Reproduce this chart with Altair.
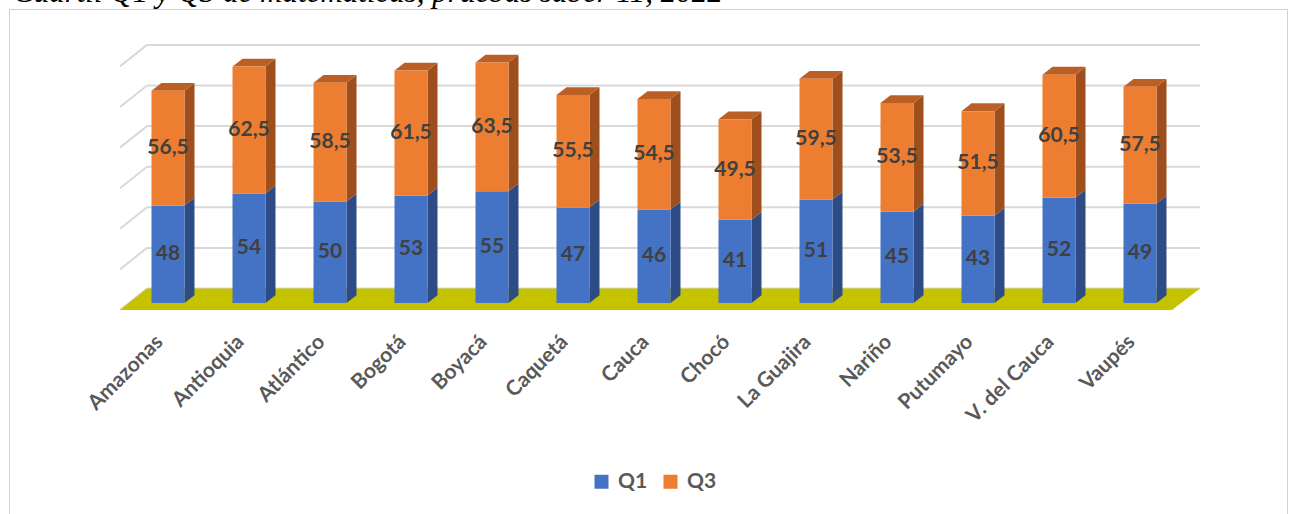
import altair as alt
import pandas as pd

# ---------------- data ----------------
categories = ["Amazonas", "Antioquia", "Atlántico", "Bogotá", "Boyacá", "Caquetá",
              "Cauca", "Chocó", "La Guajira", "Nariño", "Putumayo", "V. del Cauca", "Vaupés"]
q1 = [48, 54, 50, 53, 55, 47, 46, 41, 51, 45, 43, 52, 49]
q3 = [56.5, 62.5, 58.5, 61.5, 63.5, 55.5, 54.5, 49.5, 59.5, 53.5, 51.5, 60.5, 57.5]
series = ["Q1", "Q3"]
grid_values = [0, 20, 40, 60, 80, 100, 120]
title_text = "Cuartil Q1 y Q3 de matemáticas, pruebas saber 11, 2022"

# ---------------- geometry / style ----------------
W, H = 1293, 514
PX_CAT = 81.0          # px between category centres
C0 = 168.0             # px of first centre
PX_U = 2.03            # px per value unit
BASE = 303.0           # px of value 0 on bar front plane
X_DOMAIN = [(0 - C0) / PX_CAT, (W - C0) / PX_CAT]
Y_DOMAIN = [(BASE - H) / PX_U, BASE / PX_U]
HALF = 16.5 / PX_CAT
DX = 10.0 / PX_CAT
DY = 7.8 / PX_U

def px_x(p):
    return (p - C0) / PX_CAT

def px_y(p):
    return (BASE - p) / PX_U

FLOOR_FRONT_Y, FLOOR_BACK_Y = px_y(310), px_y(288.5)
FLOOR_FRONT_X = (px_x(120), px_x(1172))
FLOOR_BACK_X = (px_x(147), px_x(1200))

COL = {"Q1": "#4472C4", "Q3": "#ED7D31"}
SIDE = {"Q1": "#2D4C86", "Q3": "#9E4F1D"}
TOP = "#BC5F25"
FLOOR = "#C5C200"
GRID = "#D9D9D9"
FONT = "Lato"

xs = alt.Scale(domain=X_DOMAIN, nice=False, zero=False)
ys = alt.Scale(domain=Y_DOMAIN, nice=False, zero=False)

def fmt(v):
    s = f"{v:g}"
    return s.replace(".", ",")

# ---------------- tables ----------------
seg_rows, side_rows, top_rows, lab_rows = [], [], [], []
for i, (c, a, b) in enumerate(zip(categories, q1, q3)):
    for s, lo, hi, v in (("Q1", 0, a, a), ("Q3", a, a + b, b)):
        seg_rows.append(dict(cat=c, serie=s, x0=i - HALF, x1=i + HALF, y0=lo, y1=hi))
        sid = f"{c}-{s}"
        side_rows.append(dict(seg=sid, x=i + HALF, lo=lo, hi=hi, col=SIDE[s]))
        side_rows.append(dict(seg=sid, x=i + HALF + DX, lo=lo + DY, hi=hi + DY, col=SIDE[s]))
        lab_rows.append(dict(x=i, y=(lo + hi) / 2, t=fmt(v)))
    tot = a + b
    top_rows.append(dict(cat=c, y=tot, xl=i - HALF, xr=i + HALF))
    top_rows.append(dict(cat=c, y=tot + DY, xl=i - HALF + DX, xr=i + HALF + DX))

seg = pd.DataFrame(seg_rows)
side = pd.DataFrame(side_rows)
top = pd.DataFrame(top_rows)
labs = pd.DataFrame(lab_rows)
cats = pd.DataFrame(dict(cat=categories, x=[i - 0.1 for i in range(len(categories))],
                         y=[px_y(339)] * len(categories)))

back = pd.DataFrame(dict(x=[FLOOR_BACK_X[0]] * len(grid_values), x2=[FLOOR_BACK_X[1]] * len(grid_values),
                         y=[v + FLOOR_BACK_Y for v in grid_values], y2=[v + FLOOR_BACK_Y for v in grid_values]))
sidewall = pd.DataFrame(dict(x=[FLOOR_FRONT_X[0]] * len(grid_values), x2=[FLOOR_BACK_X[0]] * len(grid_values),
                             y=[v + FLOOR_FRONT_Y for v in grid_values], y2=[v + FLOOR_BACK_Y for v in grid_values]))
floor = pd.DataFrame(dict(y=[FLOOR_FRONT_Y, FLOOR_BACK_Y],
                          xl=[FLOOR_FRONT_X[0], FLOOR_BACK_X[0]],
                          xr=[FLOOR_FRONT_X[1], FLOOR_BACK_X[1]], g=["f", "f"]))

# ---------------- layers ----------------
grid_back = alt.Chart(back).mark_rule(color=GRID, strokeWidth=2).encode(
    x=alt.X("x:Q", scale=xs, axis=None), x2="x2:Q",
    y=alt.Y("y:Q", scale=ys, axis=None), y2="y2:Q")
grid_side = alt.Chart(sidewall).mark_rule(color=GRID, strokeWidth=2).encode(
    x=alt.X("x:Q", scale=xs, axis=None), x2="x2:Q",
    y=alt.Y("y:Q", scale=ys, axis=None), y2="y2:Q")
floor_l = alt.Chart(floor).mark_area(orient="horizontal", color=FLOOR, interpolate="linear").encode(
    y=alt.Y("y:Q", scale=ys, axis=None), x=alt.X("xl:Q", scale=xs, axis=None), x2="xr:Q",
    detail="g:N")
sides = alt.Chart(side).mark_area(orient="vertical", interpolate="linear").encode(
    x=alt.X("x:Q", scale=xs, axis=None),
    y=alt.Y("lo:Q", scale=ys, axis=None), y2="hi:Q",
    detail="seg:N",
    fill=alt.Fill("col:N", scale=None, legend=None))
tops = alt.Chart(top).mark_area(orient="horizontal", color=TOP, interpolate="linear").encode(
    y=alt.Y("y:Q", scale=ys, axis=None), x=alt.X("xl:Q", scale=xs, axis=None), x2="xr:Q",
    detail="cat:N")
fronts = alt.Chart(seg).mark_bar(stroke=None).encode(
    x=alt.X("x0:Q", scale=xs, axis=None), x2="x1:Q",
    y=alt.Y("y0:Q", scale=ys, axis=None), y2="y1:Q",
    color=alt.Color("serie:N",
                    scale=alt.Scale(domain=series, range=[COL[s] for s in series]),
                    legend=alt.Legend(orient="none", legendX=591, legendY=471, direction="horizontal",
                                      title=None, symbolType="square", symbolSize=196,
                                      symbolStrokeWidth=0, symbolOpacity=1,
                                      labelFont=FONT, labelFontSize=21, labelFontWeight="bold",
                                      labelColor="#595959", labelOffset=6, columnPadding=12,
                                      padding=0)))
vals = alt.Chart(labs).mark_text(font=FONT, fontSize=21, fontWeight="bold", color="#404040",
                                 align="center", baseline="middle").encode(
    x=alt.X("x:Q", scale=xs, axis=None), y=alt.Y("y:Q", scale=ys, axis=None), text="t:N")
catl = alt.Chart(cats).mark_text(font=FONT, fontSize=21, fontWeight="bold", color="#595959",
                                 align="right", baseline="middle", angle=315).encode(
    x=alt.X("x:Q", scale=xs, axis=None), y=alt.Y("y:Q", scale=ys, axis=None), text="cat:N")

title_df = pd.DataFrame(dict(t=[title_text]))
title_l = alt.Chart(title_df).mark_text(font="Liberation Serif", fontSize=31, fontStyle="italic",
                                        color="#000000", align="left", baseline="alphabetic").encode(
    x=alt.value(13), y=alt.value(2), text="t:N")

frame_df = pd.DataFrame(dict(k=[0]))
fr_left = alt.Chart(frame_df).mark_rule(color="#D0D0D0", strokeWidth=1).encode(
    x=alt.value(9.5), y=alt.value(9.5), y2=alt.value(514))
fr_top = alt.Chart(frame_df).mark_rule(color="#D0D0D0", strokeWidth=1).encode(
    x=alt.value(9.5), x2=alt.value(1287.5), y=alt.value(9.5))
fr_right = alt.Chart(frame_df).mark_rule(color="#D0D0D0", strokeWidth=1).encode(
    x=alt.value(1287.5), y=alt.value(9.5), y2=alt.value(514))

chart = alt.layer(
    fr_left, fr_top, fr_right,
    grid_back, grid_side, floor_l, sides, tops, fronts, vals, catl, title_l
).properties(
    width=W, height=H,
    autosize=alt.AutoSizeParams(type="none"),
    padding=0,
    background="#FFFFFF",
).configure_view(stroke=None)

chart.save("out.html", embed_options={"renderer": "svg", "actions": False})
